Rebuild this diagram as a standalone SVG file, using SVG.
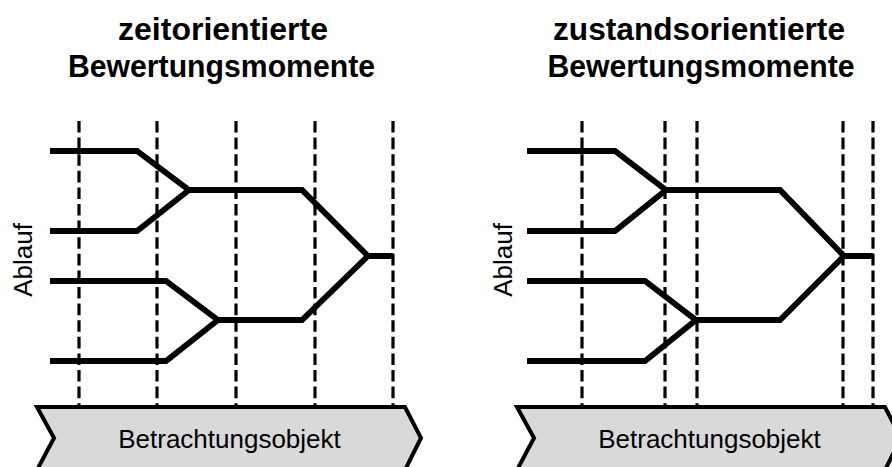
<svg xmlns="http://www.w3.org/2000/svg" width="892" height="467" viewBox="0 0 892 467">
<style>
.title{font-family:"Liberation Sans",Arial,sans-serif;font-weight:bold;font-size:31px;text-anchor:middle;fill:#000}
.lbl{font-family:"Liberation Sans",Arial,sans-serif;font-size:26px;text-anchor:middle;fill:#000}
.dash{stroke:#000;stroke-width:3.2;stroke-dasharray:11.6 5;fill:none}
.flow{stroke:#000;stroke-width:5.8;fill:none;stroke-linejoin:miter;stroke-linecap:butt}
.banner{fill:#d9d9d9;stroke:#000;stroke-width:4;stroke-linejoin:miter}
</style>
<rect width="892" height="467" fill="#fff"/>
<g id="left-panel">
  <g id="left-title">
    <text class="title" x="223" y="40" textLength="210" lengthAdjust="spacingAndGlyphs">zeitorientierte</text>
    <text class="title" x="221.5" y="77" textLength="307" lengthAdjust="spacingAndGlyphs">Bewertungsmomente</text>
  </g>
  <g id="left-ablauf">
    <text class="lbl" transform="translate(32,260) rotate(-90)" x="0" y="0">Ablauf</text>
  </g>
  <g id="left-moments">
    <line class="dash" x1="79" y1="121" x2="79" y2="410"/>
    <line class="dash" x1="157" y1="121" x2="157" y2="410"/>
    <line class="dash" x1="236" y1="121" x2="236" y2="410"/>
    <line class="dash" x1="315" y1="121" x2="315" y2="410"/>
    <line class="dash" x1="393" y1="121" x2="393" y2="410"/>
  </g>
  <g id="left-flows">
    <polyline class="flow" points="50,151 137,151 189,190 302,190 368,256 393,256"/>
    <polyline class="flow" points="50,231 137,231 189,190"/>
    <polyline class="flow" points="50,281 166,281 218,320 302,320 368,256"/>
    <polyline class="flow" points="50,361 166,361 218,320"/>
  </g>
  <g id="left-object">
    <polygon class="banner" points="37,407 405,407 421,438 405,470 37,470 54,438"/>
    <text class="lbl" x="229.5" y="447.5">Betrachtungsobjekt</text>
  </g>
</g>
<g id="right-panel">
  <g id="right-title">
    <text class="title" x="699" y="40" textLength="292" lengthAdjust="spacingAndGlyphs">zustandsorientierte</text>
    <text class="title" x="701" y="77" textLength="307" lengthAdjust="spacingAndGlyphs">Bewertungsmomente</text>
  </g>
  <g id="right-ablauf">
    <text class="lbl" transform="translate(512,260) rotate(-90)" x="0" y="0">Ablauf</text>
  </g>
  <g id="right-moments">
    <line class="dash" x1="582" y1="121" x2="582" y2="410"/>
    <line class="dash" x1="665" y1="121" x2="665" y2="410"/>
    <line class="dash" x1="697" y1="121" x2="697" y2="410"/>
    <line class="dash" x1="843" y1="121" x2="843" y2="410"/>
    <line class="dash" x1="873" y1="121" x2="873" y2="410"/>
  </g>
  <g id="right-flows">
    <polyline class="flow" points="527,151 615,151 666,190 780,190 844,256 873,256"/>
    <polyline class="flow" points="527,231 615,231 666,190"/>
    <polyline class="flow" points="527,281 645,281 696,320 780,320 844,256"/>
    <polyline class="flow" points="527,361 645,361 696,320"/>
  </g>
  <g id="right-object">
    <polygon class="banner" points="517,407 885,407 901,438 885,470 517,470 534,438"/>
    <text class="lbl" x="709.5" y="447.5">Betrachtungsobjekt</text>
  </g>
</g>
</svg>
